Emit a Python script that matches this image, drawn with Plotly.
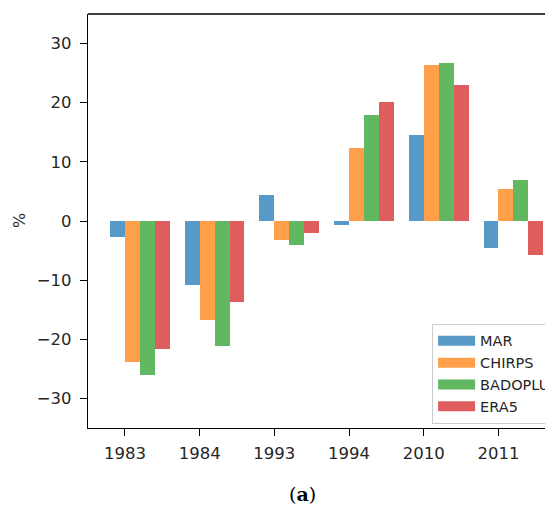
import plotly.graph_objects as go

years = ["1983", "1984", "1993", "1994", "2010", "2011"]
series_names = ["MAR", "CHIRPS", "BADOPLU", "ERA5"]
mar = [-2.7, -10.8, 4.4, -0.7, 14.5, -4.6]
chirps = [-23.8, -16.8, -3.2, 12.4, 26.4, 5.4]
badoplu = [-26.1, -21.1, -4.1, 17.9, 26.7, 6.9]
era5 = [-21.6, -13.7, -2.0, 20.1, 23.0, -5.7]
yticks = [-30, -20, -10, 0, 10, 20, 30]

values = [mar, chirps, badoplu, era5]
colors = ["#5799c7", "#ff9f4a", "#61b861", "#e05d5e"]
width = 0.2
offsets = [-0.1, 0.1, 0.3, 0.5]

fig = go.Figure()
idx = list(range(len(years)))
for name, vals, col, off in zip(series_names, values, colors, offsets):
    fig.add_trace(go.Bar(
        x=[i + off for i in idx], y=vals, width=width, name=name, legendgroup=name,
        showlegend=False, marker=dict(color=col, line=dict(width=0)),
    ))
# legend-only entries drawn as wide rectangular swatches
for name, col in zip(series_names, colors):
    fig.add_trace(go.Scatter(
        x=[None], y=[None], mode="lines", name=name, legendgroup=name,
        line=dict(color=col, width=10),
    ))

tickfont = dict(family="DejaVu Sans", size=16.5, color="#262626")
fig.update_layout(
    width=545, height=497,
    margin=dict(l=80, r=0, t=6, b=77, autoexpand=False),
    plot_bgcolor="white", paper_bgcolor="white",
    barmode="overlay", bargap=0,
    showlegend=True,
    legend=dict(x=0.74, y=0.01, xanchor="left", yanchor="bottom",
                bgcolor="rgba(255,255,255,0.8)", bordercolor="#cccccc", borderwidth=1,
                font=dict(family="DejaVu Sans", size=14.5, color="#262626"),
                tracegroupgap=0, itemwidth=37),
    xaxis=dict(range=[-0.495, 5.73], tickmode="array", tickvals=idx, ticktext=years,
               showgrid=False, zeroline=False, showline=True, linecolor="black", linewidth=1.3,
               ticks="outside", ticklen=7, tickwidth=1.2, tickcolor="black",
               tickfont=tickfont, ticklabelstandoff=3),
    yaxis=dict(range=[-35, 35], tickmode="array", tickvals=yticks,
               showgrid=False, zeroline=False, showline=True, linecolor="black", linewidth=1.3,
               ticks="outside", ticklen=7, tickwidth=1.2, tickcolor="black",
               tickfont=tickfont, ticklabelstandoff=5),
)
fig.add_shape(type="line", xref="paper", yref="paper", x0=0, x1=1, y0=1, y1=1,
              line=dict(color="black", width=1.3))
fig.add_annotation(text="%", xref="paper", yref="paper", x=(19 - 88) / 465, y=0.5,
                   xanchor="center", yanchor="middle", showarrow=False, textangle=-90,
                   font=dict(family="DejaVu Sans", size=16, color="#262626"))
fig.add_annotation(text="(<b>a</b>)", xref="paper", yref="paper", x=(302 - 88) / 465, y=-0.16,
                   xanchor="center", yanchor="middle", showarrow=False,
                   font=dict(family="DejaVu Serif", size=19, color="black"))

fig.write_html("out.html")
